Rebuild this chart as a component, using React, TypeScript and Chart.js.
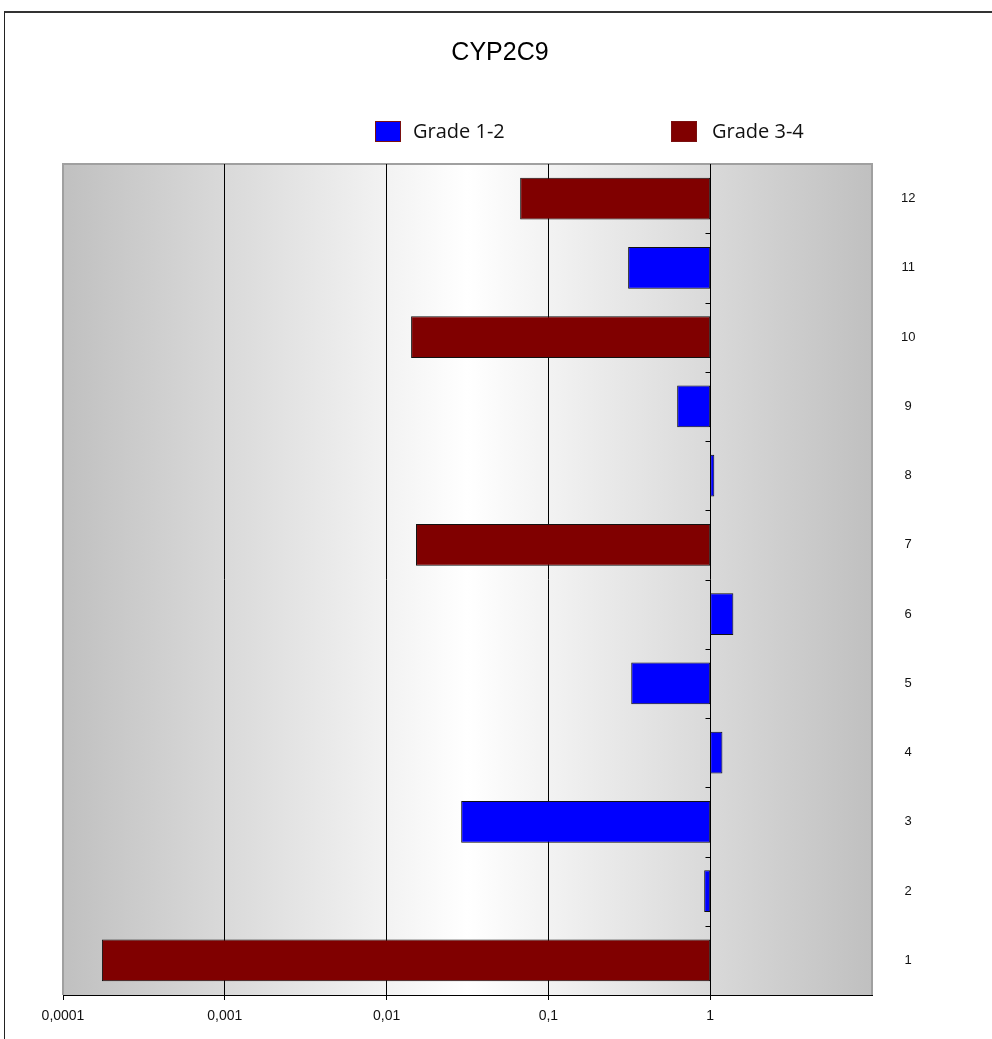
import React, { useEffect, useRef } from "react";
import { Chart, registerables } from "chart.js";

Chart.register(...registerables);

// Categories listed bottom-to-top (the y axis is reversed so 12 sits on top)
const categories = ["1", "2", "3", "4", "5", "6", "7", "8", "9", "10", "11", "12"];

// Ratios per category; null where the grade has no bar
const grade12Values: (number | null)[] = [null, 0.918, 0.0289, 1.19, 0.325, 1.39, null, 1.06, 0.625, null, 0.311, null];
const grade34Values: (number | null)[] = [0.000174, null, null, null, null, null, 0.0152, null, null, 0.01417, null, 0.0669];

const seriesLabels = ["Grade 1-2", "Grade 3-4"];
const seriesColors = ["#0000ff", "#800000"];

const chartTitle = "CYP2C9";

// Decade ticks shown on the log axis
const xTickValues = [0.0001, 0.001, 0.01, 0.1, 1];
const xTickLabels = ["0,0001", "0,001", "0,01", "0,1", "1"];

const BASELINE = 1;

const toFloating = (vals: (number | null)[]) =>
  vals.map((v) => (v == null ? null : [BASELINE, v]));

const plotDecor = {
  id: "plotDecor",
  beforeDraw(chart: any) {
    const { ctx, chartArea: a } = chart;
    ctx.save();
    // grey-white-grey horizontal shading behind the plot
    const g = ctx.createLinearGradient(a.left, 0, a.right, 0);
    g.addColorStop(0, "#c0c0c0");
    g.addColorStop(0.5, "#ffffff");
    g.addColorStop(1, "#c0c0c0");
    ctx.fillStyle = g;
    ctx.fillRect(a.left, a.top, a.right - a.left, a.bottom - a.top);
    // grey frame on left, top and right
    ctx.strokeStyle = "#a0a0a0";
    ctx.lineWidth = 2;
    ctx.beginPath();
    ctx.moveTo(a.left, a.bottom);
    ctx.lineTo(a.left, a.top);
    ctx.lineTo(a.right, a.top);
    ctx.lineTo(a.right, a.bottom);
    ctx.stroke();
    ctx.restore();
  },
  beforeDatasetsDraw(chart: any) {
    // small tick marks on the baseline between categories
    const { ctx } = chart;
    const x = Math.round(chart.scales.x.getPixelForValue(BASELINE)) + 0.5;
    const y = chart.scales.y;
    ctx.save();
    ctx.strokeStyle = "#000";
    ctx.lineWidth = 1;
    ctx.beginPath();
    for (let i = 0; i < categories.length - 1; i++) {
      const py = Math.round(y.getPixelForValue(i + 0.5)) + 0.5;
      ctx.moveTo(x - 5, py);
      ctx.lineTo(x, py);
    }
    ctx.stroke();
    ctx.restore();
  },
  afterDraw(chart: any) {
    const { ctx } = chart;
    ctx.save();
    // title
    ctx.fillStyle = "#000";
    ctx.font = '25px "Liberation Sans", Arial, sans-serif';
    ctx.textAlign = "center";
    ctx.textBaseline = "middle";
    ctx.fillText(chartTitle, 500, 53);
    // legend row
    const boxStarts = [375, 671];
    const textStarts = [413, 712];
    chart.data.datasets.forEach((ds: any, i: number) => {
      const bx = boxStarts[i];
      ctx.fillStyle = ds.backgroundColor;
      ctx.fillRect(bx, 121, 26, 21);
      ctx.strokeStyle = "#7a1010";
      ctx.lineWidth = 1;
      ctx.strokeRect(bx + 0.5, 121.5, 25, 20);
      ctx.fillStyle = "#111";
      ctx.font = '20px "Open Sans"';
      ctx.textBaseline = "middle";
      ctx.textAlign = "left";
      ctx.fillText(ds.label, textStarts[i], 132);
    });
    ctx.restore();
  },
};

export default function App() {
  const ref = useRef<HTMLCanvasElement | null>(null);

  useEffect(() => {
    if (!ref.current) return;
    const chart = new Chart(ref.current, {
      type: "bar",
      data: {
        labels: categories,
        datasets: [
          {
            label: seriesLabels[0],
            data: toFloating(grade12Values) as any,
            backgroundColor: seriesColors[0],
            borderColor: "#111",
            borderWidth: 1,
            borderSkipped: false,
          },
          {
            label: seriesLabels[1],
            data: toFloating(grade34Values) as any,
            backgroundColor: seriesColors[1],
            borderColor: "#111",
            borderWidth: 1,
            borderSkipped: false,
          },
        ],
      },
      options: {
        indexAxis: "y",
        responsive: false,
        animation: false,
        devicePixelRatio: 1,
        layout: { padding: { left: 63, right: 0, top: 164, bottom: 0 } },
        datasets: {
          bar: { grouped: false, barPercentage: 0.6, categoryPercentage: 1 },
        },
        plugins: {
          legend: { display: false },
          tooltip: { enabled: false },
          title: { display: false },
        },
        scales: {
          x: {
            type: "logarithmic",
            position: "bottom",
            min: 0.0001,
            max: 10,
            afterBuildTicks: (scale: any) => {
              scale.ticks = xTickValues.map((v) => ({ value: v }));
            },
            afterFit: (scale: any) => {
              scale.height = 44;
            },
            ticks: {
              autoSkip: false,
              maxRotation: 0,
              padding: 8,
              color: "#111",
              font: { family: '"Liberation Sans", Arial, sans-serif', size: 14 },
              callback: (v: any) => {
                const i = xTickValues.indexOf(Number(v));
                return i >= 0 ? xTickLabels[i] : "";
              },
            },
            grid: {
              color: (c: any) => (c.index === 0 ? "rgba(0,0,0,0)" : "#000"),
              tickColor: "#000",
              tickLength: 5,
              lineWidth: 1,
            },
            border: { display: true, color: "#000", width: 1 },
          },
          y: {
            type: "category",
            position: "right",
            reverse: true,
            afterFit: (scale: any) => {
              scale.width = 120;
            },
            ticks: {
              padding: 29,
              crossAlign: "center",
              color: "#111",
              font: { family: '"Liberation Sans", Arial, sans-serif', size: 13 },
            },
            grid: { display: false, drawTicks: false },
            border: { display: false },
          },
        },
      },
      plugins: [plotDecor],
    });
    return () => chart.destroy();
  }, []);

  return (
    <div style={{ position: "fixed", left: 0, top: 0, width: 992, height: 1039, background: "#fff" }}>
      <div
        style={{
          position: "absolute",
          left: 4,
          top: 11,
          right: 0,
          bottom: 0,
          borderLeft: "1px solid #222",
          borderTop: "2px solid #333",
        }}
      />
      <canvas ref={ref} width={992} height={1039} style={{ position: "absolute", left: 0, top: 0 }} />
    </div>
  );
}
